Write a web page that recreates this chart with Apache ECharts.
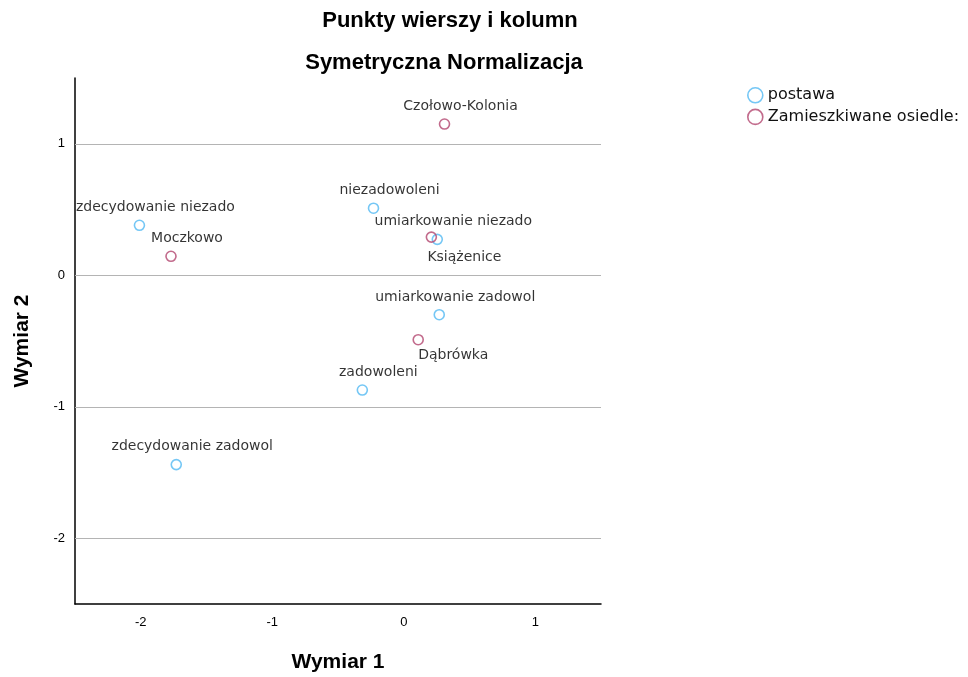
<!DOCTYPE html>
<html>
<head>
<meta charset="utf-8">
<script src="https://cdn.jsdelivr.net/npm/echarts@6/dist/echarts.min.js"></script>
<style>
html,body{margin:0;padding:0;background:#fff;}
#chart{width:968px;height:677px;}
</style>
</head>
<body>
<div id="chart"></div>
<script>
const titleMain = 'Punkty wierszy i kolumn';
const titleSub = 'Symetryczna Normalizacja';
const xAxisName = 'Wymiar 1';
const yAxisName = 'Wymiar 2';
const seriesNames = ['postawa', 'Zamieszkiwane osiedle:'];

const postawaNames = ['zdecydowanie niezado', 'niezadowoleni', 'umiarkowanie niezado', 'umiarkowanie zadowol', 'zadowoleni', 'zdecydowanie zadowol'];
const postawaX = [-2.01, -0.23, 0.255, 0.27, -0.315, -1.73];
const postawaY = [0.38, 0.51, 0.273, -0.30, -0.873, -1.44];

const osiedleNames = ['Czołowo-Kolonia', 'Moczkowo', 'Książenice', 'Dąbrówka'];
const osiedleX = [0.31, -1.77, 0.21, 0.11];
const osiedleY = [1.15, 0.144, 0.29, -0.49];

const xTicks = [-2, -1, 0, 1];
const yTicks = [-2, -1, 0, 1];

const labelBelow = {'Książenice': [33, 2], 'Dąbrówka': [35, -2]};

const colors = ['#52b9f2', '#b3466f'];
const labelFont = 'DejaVu Sans';

function buildData(names, xs, ys) {
  return names.map((n, i) => {
    const item = {name: n, value: [xs[i], ys[i]]};
    if (labelBelow[n]) {
      item.label = {position: 'bottom', offset: labelBelow[n]};
    }
    return item;
  });
}

function makeSeries(name, data, color) {
  return {
    name: name,
    type: 'scatter',
    symbol: 'circle',
    symbolSize: 10,
    itemStyle: {color: 'rgba(255,255,255,0)', borderColor: color, borderWidth: 1.6},
    label: {
      show: true,
      position: 'top',
      distance: 5,
      offset: [16, 0],
      formatter: p => p.name,
      color: '#000',
      fontFamily: labelFont,
      fontSize: 14
    },
    emphasis: {disabled: true},
    data: data
  };
}

const chart = echarts.init(document.getElementById('chart'), null, {renderer: 'canvas'});
chart.setOption({
  animation: false,
  backgroundColor: '#ffffff',
  title: [
    {text: titleMain, left: 445, top: 5, textAlign: 'center',
     textStyle: {fontFamily: 'Liberation Sans', fontWeight: 'bold', fontSize: 22, color: '#000'}},
    {text: titleSub, left: 439, top: 47, textAlign: 'center',
     textStyle: {fontFamily: 'Liberation Sans', fontWeight: 'bold', fontSize: 22, color: '#000'}}
  ],
  legend: {
    orient: 'vertical',
    left: 742,
    top: 82,
    itemWidth: 15,
    itemHeight: 15,
    itemGap: 5,
    icon: 'circle',
    itemStyle: {borderWidth: 1.6},
    textStyle: {fontFamily: 'DejaVu Sans', fontSize: 16, color: '#111'},
    data: seriesNames
  },
  grid: {left: 75, right: 367, top: 78, bottom: 73, containLabel: false, outerBoundsMode: 'none'},
  xAxis: {
    type: 'value',
    min: -2.5, max: 1.5, interval: 0.5,
    name: xAxisName, nameLocation: 'middle', nameGap: 48,
    nameTextStyle: {fontFamily: 'Liberation Sans', fontWeight: 'bold', fontSize: 21, color: '#000'},
    axisLine: {onZero: false, lineStyle: {color: '#000', width: 1.5}},
    axisTick: {show: false},
    splitLine: {show: false},
    axisLabel: {
      margin: 12, fontFamily: 'Liberation Sans', fontSize: 13, color: '#000',
      formatter: v => xTicks.includes(v) ? String(v) : ''
    }
  },
  yAxis: {
    type: 'value',
    min: -2.5, max: 1.5, interval: 0.5,
    name: yAxisName, nameLocation: 'middle', nameGap: 42,
    nameTextStyle: {fontFamily: 'Liberation Sans', fontWeight: 'bold', fontSize: 21, color: '#000'},
    axisLine: {onZero: false, lineStyle: {color: '#000', width: 1.5}},
    axisTick: {show: false},
    splitLine: {show: false},
    axisLabel: {
      margin: 10, fontFamily: 'Liberation Sans', fontSize: 13, color: '#000',
      formatter: v => yTicks.includes(v) ? String(v) : ''
    }
  },
  series: [
    makeSeries(seriesNames[0], buildData(postawaNames, postawaX, postawaY), colors[0]),
    makeSeries(seriesNames[1], buildData(osiedleNames, osiedleX, osiedleY), colors[1]),
    {
      type: 'line',
      silent: true,
      symbol: 'none',
      data: [],
      markLine: {
        silent: true,
        symbol: 'none',
        label: {show: false},
        lineStyle: {color: '#b4b4b4', type: 'solid', width: 1},
        data: yTicks.map(t => ({yAxis: t}))
      }
    }
  ]
});
</script>
</body>
</html>
